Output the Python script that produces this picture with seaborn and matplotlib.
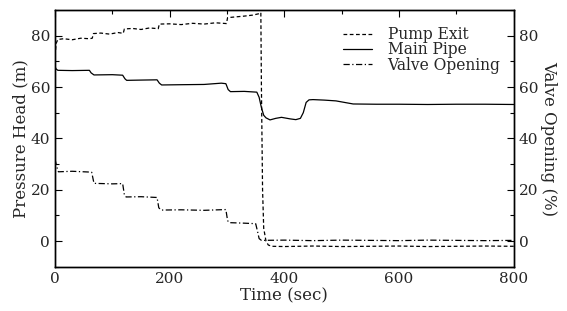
import matplotlib
matplotlib.use("Agg")
import matplotlib.pyplot as plt
import seaborn as sns
import pandas as pd
from matplotlib.ticker import MultipleLocator

# ---- data ----
pump_t = [0, 2, 5, 15, 30, 45, 60, 65, 67, 80, 95, 110, 119, 121, 135, 150, 165, 180,
          182, 200, 220, 240, 260, 280, 299, 301, 315, 330, 345, 355, 359, 360, 362,
          364, 368, 372, 378, 400, 450, 500, 550, 600, 650, 700, 750, 800]
pump_v = [72, 77, 78.5, 78.8, 78.4, 79.0, 78.8, 79.0, 80.8, 81.0, 80.6, 81.2, 80.9,
          82.6, 82.8, 82.4, 83.0, 82.7, 84.5, 84.6, 84.3, 84.8, 84.5, 85.0, 84.7,
          87.0, 87.3, 87.6, 88.0, 88.5, 89.0, 60, 20, 5, 0, -1.5, -2.0, -2.1, -1.9,
          -2.1, -2.0, -1.9, -2.1, -2.0, -1.9, -2.0]

pipe_t = [0, 2, 5, 30, 60, 63, 68, 100, 118, 122, 125, 150, 178, 182, 186, 220, 260,
          290, 298, 302, 306, 330, 352, 356, 360, 364, 368, 375, 385, 395, 410, 420,
          428, 433, 438, 443, 450, 470, 490, 505, 520, 560, 600, 650, 700, 750, 800]
pipe_v = [68, 67, 66.5, 66.4, 66.5, 65.5, 64.7, 64.8, 64.6, 63.2, 62.6, 62.7, 62.8,
          61.5, 60.8, 60.9, 61.0, 61.5, 61.3, 59.0, 58.2, 58.3, 58.0, 56.0, 52.0,
          49.0, 48.0, 47.2, 47.8, 48.2, 47.6, 47.3, 47.8, 50.0, 54.0, 55.0, 55.1,
          54.9, 54.6, 54.0, 53.4, 53.3, 53.3, 53.2, 53.3, 53.3, 53.2]

valve_t = [0, 3, 6, 30, 60, 64, 68, 100, 118, 121, 124, 150, 178, 181, 185, 220, 260,
           298, 301, 304, 330, 350, 353, 356, 360, 400, 450, 500, 550, 600, 650, 700,
           750, 800]
valve_v = [32, 29, 27, 27.2, 26.9, 26.8, 22.5, 22.3, 22.4, 18.0, 17.2, 17.3, 17.0,
           13.0, 12.1, 12.2, 12.0, 12.3, 8.0, 7.2, 7.0, 6.8, 4.0, 1.0, 0.3, 0.4, 0.2,
           0.4, 0.3, 0.2, 0.4, 0.3, 0.2, 0.3]

labels = ["Pump Exit", "Main Pipe", "Valve Opening"]

sns.set_style("white")
plt.rcParams["font.family"] = ["DejaVu Serif"]
plt.rcParams["font.size"] = 11

fig = plt.figure(figsize=(5.67, 3.11), dpi=100)
ax = fig.add_axes([0.097, 0.142, 0.809, 0.826])

df_p = pd.DataFrame({"t": pump_t, "v": pump_v})
df_m = pd.DataFrame({"t": pipe_t, "v": pipe_v})
df_v = pd.DataFrame({"t": valve_t, "v": valve_v})

sns.lineplot(data=df_p, x="t", y="v", ax=ax, color="black", lw=0.9,
             linestyle=(0, (3, 2)), label=labels[0])
sns.lineplot(data=df_m, x="t", y="v", ax=ax, color="black", lw=0.9,
             linestyle="-", label=labels[1])
sns.lineplot(data=df_v, x="t", y="v", ax=ax, color="black", lw=0.9,
             linestyle=(0, (5, 2, 1, 2)), label=labels[2])

ax.set_xlim(0, 800)
ax.set_ylim(-10, 90)
ax.xaxis.set_major_locator(MultipleLocator(200))
ax.xaxis.set_minor_locator(MultipleLocator(100))
ax.yaxis.set_major_locator(MultipleLocator(20))
ax.yaxis.set_minor_locator(MultipleLocator(10))
ax.tick_params(which="both", direction="in", top=True, right=False,
               color="black", labelsize=11)
ax.tick_params(which="major", length=5, width=0.8)
ax.tick_params(which="minor", length=3, width=0.8)
ax.set_xlabel("Time (sec)", fontsize=12, labelpad=1)
ax.set_ylabel("Pressure Head (m)", fontsize=12, labelpad=1)
for s in ax.spines.values():
    s.set_color("black")
    s.set_linewidth(1.0)

ax2 = ax.twinx()
ax2.set_ylim(-10, 90)
ax2.yaxis.set_major_locator(MultipleLocator(20))
ax2.yaxis.set_minor_locator(MultipleLocator(10))
ax2.tick_params(which="both", direction="in", color="black", labelsize=11)
ax2.tick_params(which="major", length=5, width=0.8)
ax2.tick_params(which="minor", length=3, width=0.8)
ax2.set_ylabel("Valve Opening (%)", fontsize=12, rotation=-90, labelpad=14)
for s in ax2.spines.values():
    s.set_color("black")
    s.set_linewidth(1.0)

leg = ax.legend(loc="upper right", bbox_to_anchor=(0.995, 0.98), frameon=False,
                fontsize=11.2, handlelength=1.9, handletextpad=1.0,
                labelspacing=-0.1, borderpad=0.2)

fig.savefig("out.png", dpi=100)
